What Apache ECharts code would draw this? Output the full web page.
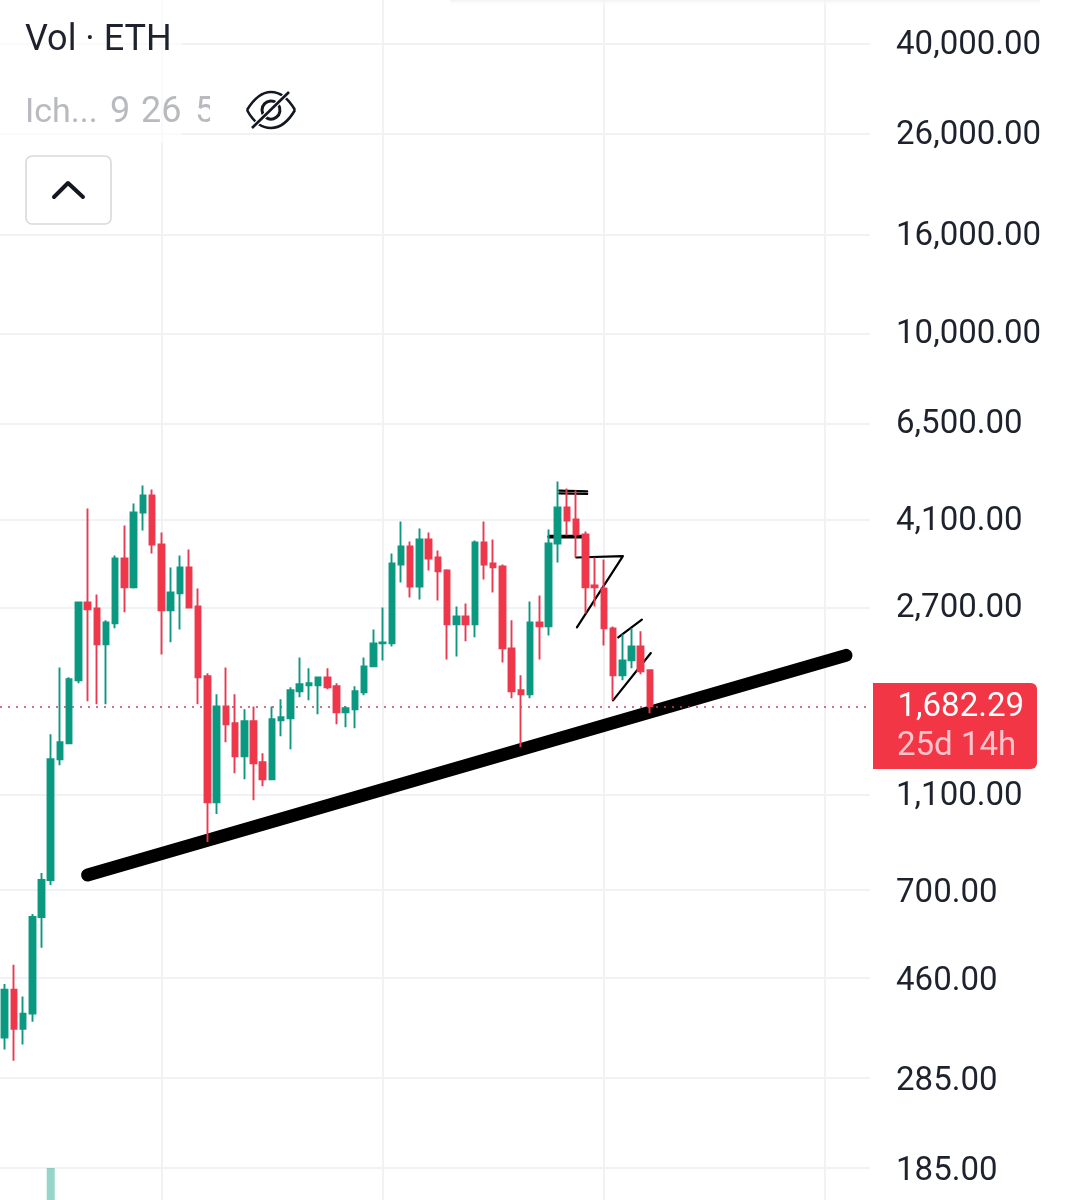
<!DOCTYPE html>
<html><head><meta charset="utf-8">
<style>html,body{margin:0;padding:0;background:#fff}#c{width:1071px;height:1200px}</style>
<script src="https://cdn.jsdelivr.net/npm/echarts@6/dist/echarts.min.js"></script>
</head><body><div id="c"></div>
<script>
// OHLC: [open, close, low, high]
const candles = [
[345,434,326,446],[434,360,309,489],[360,387,334,420],[387,614,372,623],[614,733,530,758],
[733,1306,716,1472],[1306,1416,1269,2026],[1410,1914,1410,1932],[1905,2765,1878,2778],[2765,2674,1723,4330],
[2687,2262,1698,2872],[2262,2513,1698,2537],[2501,3411,2442,3460],[3411,2970,2636,3993],[2970,4250,2956,4437],
[4250,4608,3899,4833],[4608,3647,3494,4741],[3647,2661,2156,3862],[2661,2900,2284,3268],[2886,3268,2430,3460],
[3268,2699,2699,3561],[2712,1932,1698,2956],[1942,1063,879,1970],[1063,1680,1005,1782],[1680,1544,1416,2026],
[1551,1325,1222,1782],[1325,1566,1187,1658],[1566,1281,1074,1680],[1288,1187,1148,1344],[1187,1581,1187,1680],
[1573,1596,1458,1739],[1588,1816,1370,1842],[1808,1869,1756,2125],[1860,1878,1731,2017],[1860,1932,1619,1932],
[1932,1842,1825,2017],[1851,1634,1544,1878],[1634,1666,1521,1682],[1658,1808,1514,1851],[1799,2036,1773,2125],
[2036,2273,2036,2430],[2273,2284,2095,2699],[2273,3331,2240,3494],[3315,3612,3042,4070],[3612,2984,2831,3700],
[2984,3735,2804,3936],[3735,3411,3222,3862],[3427,3207,2791,3544],[3222,2489,2105,3240],[2489,2586,2135,2712],
[2586,2489,2295,2751],[2489,3682,2339,3717],[3682,3315,3086,4070],[3331,3268,2900,3735],[3283,2219,2075,3315],
[2219,1808,1748,2537],[1816,1782,1383,1951],[1782,2513,1748,2778],[2513,2465,2105,2858],[2465,3664,2361,3917],
[3664,4351,3347,4926],[4351,4090,3807,4764],[4110,3825,3427,4719],[3825,2970,2623,3880],[2998,2970,2712,3427],
[2956,2442,2251,3395],[2442,1951,1731,2465],[1951,2095,1905,2373],[2095,2240,2017,2442],[2240,1988,1960,2407],
[1998,1682.29,1627,2007]
];
const lastPrice = 1682.29;
const tickValues = [40000,26000,16000,10000,6500,4100,2700,1100,700,460,285,185];
const timeGridBars = [17,41,65,89];
const bandCount = 95;
const lineEnd = 93.88;
const volumeBarIndex = 5;
const volumeValue = 32;
// hand-drawn annotations as [bar position, price]
const trendLine = [[9.0,751],[91.27,2146]];
const topLine1 = [[60.16,4719],[63.2,4700]];
const topLine2 = [[60.16,4655],[63.2,4645]];
const midLine = [[59.08,3788],[62.66,3788]];
const flagLine = [[62.0,3427],[67.07,3450],[62.08,2453]];
const channelUp = [[66.56,2339],[69.13,2547]];
const channelDown = [[66.0,1731],[70.1,2170]];

const UP='#089981', DOWN='#F23645', GRID='#F0F2F3', INK='#1E222D', ICON='#131722';
const cats = Array.from({length:bandCount},(_,i)=>String(i));
const money = v => v.toLocaleString('en-US',{minimumFractionDigits:2,maximumFractionDigits:2});
const labelNudge = v => v<=700 ? 4 : (v===10000||v===6500||v===2700) ? 1 : 2;

function draw(data,width,name){
  return {type:'line',name,xAxisIndex:1,yAxisIndex:0,data,symbol:'none',z:2,silent:true,animation:false,
    lineStyle:{color:'#000',width,cap:'round',join:'round'}};
}
const chart = echarts.init(document.getElementById('c'),null,{renderer:'canvas'});
chart.setOption({
  animation:false,
  backgroundColor:'#fff',
  grid:{left:-0.6,top:0,width:bandCount*9.225,height:1200,containLabel:false},
  xAxis:[
    {type:'category',data:cats,show:false,boundaryGap:true},
    {type:'value',min:-0.5,max:bandCount-0.5,show:false}
  ],
  yAxis:[
    {type:'log',logBase:10,min:158.7,max:49280,show:false,splitLine:{show:false}},
    {type:'value',min:0,max:1200,show:false,splitLine:{show:false}}
  ],
  series:[
    {type:'line',name:'gridH',xAxisIndex:1,yAxisIndex:0,data:[],z:1,silent:true,
      markLine:{silent:true,symbol:'none',animation:false,z:1,
        lineStyle:{color:GRID,width:2,type:'solid'},
        data:tickValues.map(v=>[
          {coord:[-0.5,v],label:{show:true,position:'end',distance:26,formatter:money(v),color:INK,
             fontFamily:'Roboto',fontSize:33,align:'left',verticalAlign:'middle',offset:[0,labelNudge(v)]}},
          {coord:[lineEnd,v]}
        ])}},
    {type:'line',name:'gridV',xAxisIndex:0,yAxisIndex:0,data:[],z:1,silent:true,
      markLine:{silent:true,symbol:'none',animation:false,z:1,
        lineStyle:{color:GRID,width:2,type:'solid'},
        data:timeGridBars.map(i=>({xAxis:i,label:{show:false}}))}},
    {type:'bar',name:'Vol',xAxisIndex:0,yAxisIndex:1,barWidth:8,z:1,
      data:cats.map((_,i)=>i===volumeBarIndex?volumeValue:null),
      itemStyle:{color:'rgba(8,153,129,0.42)'}},
    draw(trendLine,13,'trend'),
    draw(topLine1,2.2,'a1'),draw(topLine2,2.2,'a2'),draw(midLine,3.8,'a3'),
    draw(flagLine,2.2,'a4'),draw(channelUp,2.2,'a5'),draw(channelDown,2.2,'a6'),
    {type:'line',name:'priceLine',xAxisIndex:1,yAxisIndex:0,data:[],z:3,silent:true,
      markLine:{silent:true,symbol:'none',animation:false,z:3,
        lineStyle:{color:'#C2475C',width:1.6,type:[2,6]},
        data:[[{coord:[-0.5,lastPrice],label:{show:false}},{coord:[lineEnd,lastPrice]}]]}},
    {type:'candlestick',name:'ETH',xAxisIndex:0,yAxisIndex:0,data:candles,barWidth:6,z:4,
      itemStyle:{color:UP,color0:DOWN,borderColor:'#0E9882',borderColor0:'#E83A50',borderWidth:1.9}}
  ],
  graphic:[
    {type:'rect',z:50,shape:{x:450,y:0,width:590,height:6},style:{fill:new echarts.graphic.LinearGradient(0,0,0,1,[{offset:0,color:'#F2F2F2'},{offset:1,color:'rgba(255,255,255,0)'}])}},
    {type:'rect',z:50,shape:{x:0,y:0,width:182,height:143},style:{fill:'rgba(255,255,255,0.6)'}},
    {type:'text',z:51,x:25,y:41,style:{text:'Vol · ETH',font:'36px Roboto',fill:INK,verticalAlign:'middle'}},
    {type:'text',z:51,x:25,y:113,style:{text:'Ich...',font:'34px Roboto',fill:'#B8BABF',verticalAlign:'middle'}},
    {type:'text',z:51,x:110,y:113,style:{text:'9',font:'36px Roboto',fill:'#B8BABF',verticalAlign:'middle'}},
    {type:'text',z:51,x:141,y:113,style:{text:'26',font:'36px Roboto',fill:'#B8BABF',verticalAlign:'middle'}},
    {type:'text',z:51,x:195,y:113,style:{text:'52',font:'36px Roboto',fill:'#B8BABF',verticalAlign:'middle'}},
    {type:'rect',z:52,shape:{x:210,y:88,width:30,height:44},style:{fill:'#fff'}},
    {type:'bezierCurve',z:53,shape:{x1:247,y1:110,cpx1:255,cpy1:97,cpx2:264,cpy2:92,x2:271,y2:92},style:{fill:'none',stroke:ICON,lineWidth:2.6}},
    {type:'bezierCurve',z:53,shape:{x1:271,y1:92,cpx1:280,cpy1:92,cpx2:288,cpy2:98,x2:295,y2:110},style:{fill:'none',stroke:ICON,lineWidth:2.6}},
    {type:'bezierCurve',z:53,shape:{x1:295,y1:110,cpx1:288,cpy1:122,cpx2:280,cpy2:128,x2:271,y2:128},style:{fill:'none',stroke:ICON,lineWidth:2.6}},
    {type:'bezierCurve',z:53,shape:{x1:271,y1:128,cpx1:262,cpy1:128,cpx2:254,cpy2:123,x2:247,y2:110},style:{fill:'none',stroke:ICON,lineWidth:2.6}},
    {type:'arc',z:53,shape:{cx:271,cy:110,r:9,startAngle:Math.PI*0.75,endAngle:Math.PI*1.7},style:{fill:'none',stroke:ICON,lineWidth:3}},
    {type:'arc',z:53,shape:{cx:271,cy:110,r:9,startAngle:-Math.PI*0.2,endAngle:Math.PI*0.7},style:{fill:'none',stroke:ICON,lineWidth:3}},
    {type:'line',z:54,shape:{x1:252,y1:128,x2:289,y2:92},style:{stroke:'#fff',lineWidth:5}},
    {type:'line',z:55,shape:{x1:252,y1:128,x2:289,y2:92},style:{stroke:ICON,lineWidth:2.6}},
    {type:'rect',z:51,shape:{x:26,y:156,width:85,height:68,r:6},style:{fill:'#fff',stroke:'#D8D9DC',lineWidth:1.6}},
    {type:'polyline',z:52,shape:{points:[[54,197],[68,183],[83,197]]},style:{fill:'none',stroke:ICON,lineWidth:4,lineCap:'round',lineJoin:'round'}},
    {type:'rect',z:60,shape:{x:873,y:683,width:164,height:86,r:[0,6,6,0]},style:{fill:DOWN}},
    {type:'text',z:61,x:1024,y:708,style:{text:money(lastPrice),font:'33px Roboto',fill:'#fff',align:'right',verticalAlign:'middle'}},
    {type:'text',z:61,x:897,y:747,style:{text:'25d 14h',font:'33px Roboto',fill:'#FFC4CB',verticalAlign:'middle'}}
  ]
});
</script></body></html>
